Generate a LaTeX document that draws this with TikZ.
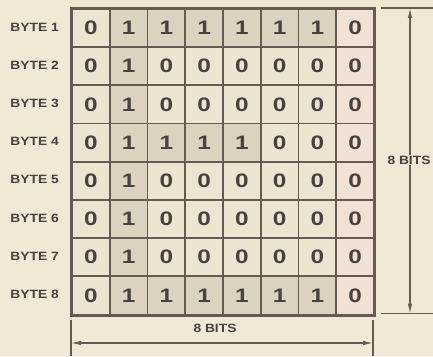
\documentclass[tikz,border=0pt]{standalone}
\usepackage{fontspec}
\setmainfont{Liberation Sans}
\newfontfamily\digitfont[FakeStretch=1.25]{Liberation Sans}
\newfontfamily\labelfont[FakeStretch=1.15]{Liberation Sans}
\usetikzlibrary{arrows.meta}
\definecolor{paper}{HTML}{F1E8D6}
\definecolor{zerocell}{HTML}{EDE4D2}
\definecolor{onecell}{HTML}{DCD2C0}
\definecolor{lastcell}{HTML}{F0E3D6}
\definecolor{ink}{HTML}{655B50}
\definecolor{txt}{HTML}{48423B}
\tikzset{
  cellbox/.style={draw=ink, line width=1.9pt, minimum width=37.75pt, minimum height=38.2pt,
    inner sep=0pt, anchor=north west, font=\digitfont\fontsize{19.5}{19.5}\bfseries, text=txt},
  bytelbl/.style={font=\labelfont\fontsize{12}{12}\bfseries, text=txt, anchor=east, inner sep=0pt},
  dimlbl/.style={font=\labelfont\fontsize{12}{12}\bfseries, text=txt, inner sep=1pt},
  dimline/.style={draw=ink, line width=1.1pt},
  dimarrow/.style={draw=ink, line width=1.1pt, -{Latex[length=10pt,width=4.5pt]}}
}
\begin{document}
\begin{tikzpicture}[x=1pt,y=1pt]
\fill[paper] (0,0) rectangle (433,356);
\useasboundingbox (0,0) rectangle (433,356);
\def\bits{{{0,1,1,1,1,1,1,0},{0,1,0,0,0,0,0,0},{0,1,0,0,0,0,0,0},{0,1,1,1,1,0,0,0},{0,1,0,0,0,0,0,0},{0,1,0,0,0,0,0,0},{0,1,0,0,0,0,0,0},{0,1,1,1,1,1,1,0}}}
\foreach \r in {1,...,8}{
  \pgfmathsetmacro{\ytop}{356-8-38.2*(\r-1)}
  \node[bytelbl] (lbl\r) at (59,\ytop-19.1) {BYTE \r};
  \foreach \c in {1,...,8}{
    \pgfmathsetmacro{\xl}{71+37.75*(\c-1)}
    \pgfmathtruncatemacro{\b}{\bits[\r-1][\c-1]}
    \ifnum\b=1
      \node[cellbox, fill=onecell] (c\r-\c) at (\xl,\ytop) {\b};
    \else
      \ifnum\c=8
        \node[cellbox, fill=lastcell] (c\r-\c) at (\xl,\ytop) {\b};
      \else
        \node[cellbox, fill=zerocell] (c\r-\c) at (\xl,\ytop) {\b};
      \fi
    \fi
  }
}
\draw[ink, line width=2.2pt] (c1-1.north west) rectangle (c8-8.south east);
% vertical dimension
\coordinate (vt) at (410,348);
\coordinate (vb) at (410,42.4);
\coordinate (vte1) at (381,348);
\coordinate (vte2) at (433,348);
\coordinate (vbe1) at (381,42.4);
\coordinate (vbe2) at (433,42.4);
\draw[dimline] (vte1) -- (vte2);
\draw[dimline] (vbe1) -- (vbe2);
\node[dimlbl] (vlbl) at (409,196) {8 BITS};
\draw[dimarrow] (vlbl.north -| vt) -- (vt);
\draw[dimarrow] (vlbl.south -| vb) -- (vb);
% horizontal dimension
\coordinate (hl1) at (71,36);
\coordinate (hl2) at (71,0);
\coordinate (hr1) at (373,36);
\coordinate (hr2) at (373,0);
\draw[dimline] (hl1) -- (hl2);
\draw[dimline] (hr1) -- (hr2);
\coordinate (ha) at (71,13);
\coordinate (hb) at (373,13);
\coordinate (hm) at (222,13);
\draw[dimarrow] (hm) -- (ha);
\draw[dimarrow] (hm) -- (hb);
\node[dimlbl] (hlbl) at (215,28) {8 BITS};
\end{tikzpicture}
\end{document}
